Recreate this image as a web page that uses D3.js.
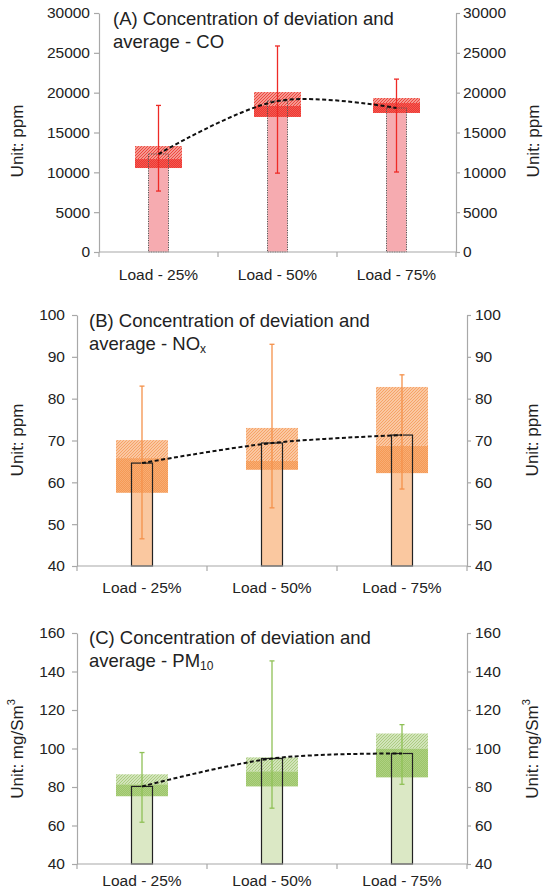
<!DOCTYPE html>
<html><head><meta charset="utf-8">
<script src="https://cdn.jsdelivr.net/npm/d3@7/dist/d3.min.js"></script>
<style>
html,body{margin:0;padding:0;background:#fff;}
svg{display:block;font-family:"Liberation Sans",Arial,Helvetica,sans-serif;}
</style></head>
<body>
<svg id="chart" width="546" height="896"></svg>
<script>
// ---------- DATA ----------
const categories = ["Load - 25%", "Load - 50%", "Load - 75%"];

const coMean    = [12300, 18950, 18075];
const coBoxLow  = [10540, 16950, 17450];
const coBoxMid  = [11670, 18330, 18700];
const coBoxHigh = [13300, 20080, 19330];
const coErrLow  = [7650, 9900, 10040];
const coErrHigh = [18400, 25860, 21700];
const coTicks   = [0, 5000, 10000, 15000, 20000, 25000, 30000];

const noxMean    = [64.6, 69.4, 71.3];
const noxBoxLow  = [57.5, 63.0, 62.2];
const noxBoxMid  = [65.8, 65.1, 68.7];
const noxBoxHigh = [70.1, 73.0, 82.8];
const noxErrLow  = [46.5, 53.9, 58.4];
const noxErrHigh = [83.0, 93.0, 85.7];
const noxTicks   = [40, 50, 60, 70, 80, 90, 100];

const pmMean    = [80.3, 94.8, 97.4];
const pmBoxLow  = [75.2, 80.3, 85.0];
const pmBoxMid  = [81.4, 88.1, 100.0];
const pmBoxHigh = [86.6, 95.4, 107.8];
const pmErrLow  = [61.7, 69.0, 81.4];
const pmErrHigh = [97.9, 145.5, 112.4];
const pmTicks   = [40, 60, 80, 100, 120, 140, 160];

// ---------- LAYOUT / STYLE ----------
const svg = d3.select("#chart");
const defs = svg.append("defs");

function hatchPattern(id, bg, fg){
  const p = defs.append("pattern").attr("id", id).attr("patternUnits","userSpaceOnUse")
    .attr("width",3).attr("height",3);
  p.append("rect").attr("width",3).attr("height",3).attr("fill",bg);
  p.append("path").attr("d","M-1,1 l2,-2 M0,3 l3,-3 M2,4 l2,-2")
    .attr("stroke",fg).attr("stroke-width",1.1);
}
function dotPattern(id, c1, c2){
  const p = defs.append("pattern").attr("id", id).attr("patternUnits","userSpaceOnUse")
    .attr("width",2).attr("height",2);
  p.append("rect").attr("width",2).attr("height",2).attr("fill",c1);
  p.append("rect").attr("width",1).attr("height",1).attr("fill",c2);
  p.append("rect").attr("x",1).attr("y",1).attr("width",1).attr("height",1).attr("fill",c2);
}

const panels = [
  {
    key:"A", mean:coMean, low:coBoxLow, mid:coBoxMid, high:coBoxHigh, eLow:coErrLow, eHigh:coErrHigh,
    ticks:coTicks, domain:[0,30000],
    left:99, right:456, top:13, bottom:252,
    barW:20, boxW:47,
    barFill:"#f6abb0", barStroke:"#555", barDash:"1.2,1.2", barSW:1,
    hatch:["#f9bcb4","#ee4038"], dots:["#ee3833","#f35a52"], err:"#ee2a26",
    titleParts:[["(A) Concentration of deviation and"],["average - CO"]],
    titleX:113, titleY:25,
    unit:"Unit: ppm", unitSup:null, unitYc:141, leftPad:4, rightPad:3, xPad:17
  },
  {
    key:"B", mean:noxMean, low:noxBoxLow, mid:noxBoxMid, high:noxBoxHigh, eLow:noxErrLow, eHigh:noxErrHigh,
    ticks:noxTicks, domain:[40,100],
    left:77, right:467, top:315, bottom:566,
    barW:21, boxW:52,
    barFill:"#fac8a0", barStroke:"#222", barDash:null, barSW:1.2,
    hatch:["#fcd8bc","#f6a062"], dots:["#f59a55","#f8ad75"], err:"#f4914b",
    titleParts:[["(B) Concentration of deviation and"],["average - NO","x"]],
    titleX:89, titleY:327,
    unit:"Unit: ppm", unitSup:null, unitYc:440, leftPad:7, rightPad:4, xPad:16
  },
  {
    key:"C", mean:pmMean, low:pmBoxLow, mid:pmBoxMid, high:pmBoxHigh, eLow:pmErrLow, eHigh:pmErrHigh,
    ticks:pmTicks, domain:[40,160],
    left:77, right:467, top:633, bottom:864,
    barW:21, boxW:52,
    barFill:"#dbe8c5", barStroke:"#222", barDash:null, barSW:1.2,
    hatch:["#e3eed3","#a9cc7e"], dots:["#9cc56a","#afd182"], err:"#8fc056",
    titleParts:[["(C) Concentration of deviation and"],["average - PM","10"]],
    titleX:89, titleY:644,
    unit:"Unit: mg/Sm", unitSup:"3", unitYc:749, leftPad:7, rightPad:4, xPad:11
  }
];

const axisColor = "#a8a8a8";
const textColor = "#222";

panels.forEach(P => {
  hatchPattern("hatch"+P.key, P.hatch[0], P.hatch[1]);
  dotPattern("dots"+P.key, P.dots[0], P.dots[1]);

  const x = d3.scaleBand().domain(categories).range([P.left, P.right]).padding(0);
  const y = d3.scaleLinear().domain(P.domain).range([P.bottom, P.top]);
  const cx = c => x(c) + x.bandwidth()/2;
  const g = svg.append("g");
  const rows = categories.map((c,i)=>({c, mean:P.mean[i], low:P.low[i], mid:P.mid[i], high:P.high[i], eLow:P.eLow[i], eHigh:P.eHigh[i]}));

  // bar fill
  g.selectAll(".barfill").data(rows).enter().append("rect")
    .attr("x", d=>cx(d.c)-P.barW/2).attr("width",P.barW)
    .attr("y", d=>y(d.mean)).attr("height", d=>y(P.domain[0])-y(d.mean))
    .attr("fill", P.barFill);

  // box: solid (low->mid) and hatched (mid->high)
  g.selectAll(".boxh").data(rows).enter().append("rect")
    .attr("x", d=>cx(d.c)-P.boxW/2).attr("width",P.boxW)
    .attr("y", d=>y(d.high)).attr("height", d=>y(d.mid)-y(d.high))
    .attr("fill","url(#hatch"+P.key+")");
  g.selectAll(".boxs").data(rows).enter().append("rect")
    .attr("x", d=>cx(d.c)-P.boxW/2).attr("width",P.boxW)
    .attr("y", d=>y(d.mid)).attr("height", d=>y(d.low)-y(d.mid))
    .attr("fill","url(#dots"+P.key+")");

  // bar outline
  g.selectAll(".barline").data(rows).enter().append("rect")
    .attr("x", d=>cx(d.c)-P.barW/2).attr("width",P.barW)
    .attr("y", d=>y(d.mean)).attr("height", d=>y(P.domain[0])-y(d.mean))
    .attr("fill","none").attr("stroke",P.barStroke).attr("stroke-width",P.barSW)
    .attr("stroke-dasharray", P.barDash);

  // error bars
  const eg = g.selectAll(".err").data(rows).enter().append("g").attr("stroke",P.err).attr("stroke-width",1.3);
  eg.append("line").attr("x1",d=>cx(d.c)).attr("x2",d=>cx(d.c)).attr("y1",d=>y(d.eLow)).attr("y2",d=>y(d.eHigh));
  eg.append("line").attr("x1",d=>cx(d.c)-2.5).attr("x2",d=>cx(d.c)+2.5).attr("y1",d=>y(d.eLow)).attr("y2",d=>y(d.eLow));
  eg.append("line").attr("x1",d=>cx(d.c)-2.5).attr("x2",d=>cx(d.c)+2.5).attr("y1",d=>y(d.eHigh)).attr("y2",d=>y(d.eHigh));

  // smoothed dashed trend
  const line = d3.line().x(d=>cx(d.c)).y(d=>y(d.mean)).curve(d3.curveCatmullRom.alpha(0.5));
  g.append("path").datum(rows).attr("d", line).attr("fill","none")
    .attr("stroke","#111").attr("stroke-width",2).attr("stroke-dasharray","4,2.5");

  // axes
  const yl = g.append("g").attr("transform",`translate(${P.left},0)`)
    .call(d3.axisLeft(y).tickValues(P.ticks).tickSize(5).tickSizeOuter(0).tickPadding(P.leftPad).tickFormat(d3.format("d")));
  const yr = g.append("g").attr("transform",`translate(${P.right},0)`)
    .call(d3.axisRight(y).tickValues(P.ticks).tickSize(4).tickSizeOuter(0).tickPadding(P.rightPad).tickFormat(d3.format("d")));
  const xa = g.append("g").attr("transform",`translate(0,${P.bottom})`)
    .call(d3.axisBottom(x).tickSize(0).tickSizeOuter(0).tickPadding(P.xPad));
  [yl,yr,xa].forEach(a=>{
    a.selectAll("path,line").attr("stroke",axisColor).attr("stroke-width",1.2);
    a.selectAll("text").attr("fill",textColor).attr("font-size",15.5)
      .attr("font-family",'"Liberation Sans",Arial,sans-serif');
  });
  xa.select(".domain").attr("d",`M${P.left},0H${P.right}`);
  // category separator ticks
  const bounds = categories.map(c=>x(c)).concat([x(categories[categories.length-1])+x.bandwidth()]);
  xa.selectAll(".sep").data(bounds).enter().append("line")
    .attr("x1",d=>d).attr("x2",d=>d).attr("y1",0).attr("y2",5)
    .attr("stroke",axisColor).attr("stroke-width",1.2);

  // title
  const t = g.append("text").attr("x",P.titleX).attr("y",P.titleY).attr("font-size",18.5).attr("fill",textColor);
  P.titleParts.forEach((parts,li)=>{
    t.append("tspan").attr("x",P.titleX).attr("y",P.titleY + li*23).text(parts[0]);
    if(parts[1]) t.append("tspan").attr("font-size",12).attr("dy",3).text(parts[1]);
  });

  // unit labels
  [[17,-90],[P.right+ (P.key==="A"?77:65),-90]].forEach(([ux,rot])=>{
    const ut = g.append("text").attr("transform",`translate(${ux},${P.unitYc}) rotate(${rot})`)
      .attr("text-anchor","middle").attr("dy","0.35em").attr("font-size",17).attr("fill",textColor);
    ut.append("tspan").text(P.unit);
    if(P.unitSup) ut.append("tspan").attr("font-size",11).attr("dy",-8).text(P.unitSup);
  });
});
</script>
</body></html>
